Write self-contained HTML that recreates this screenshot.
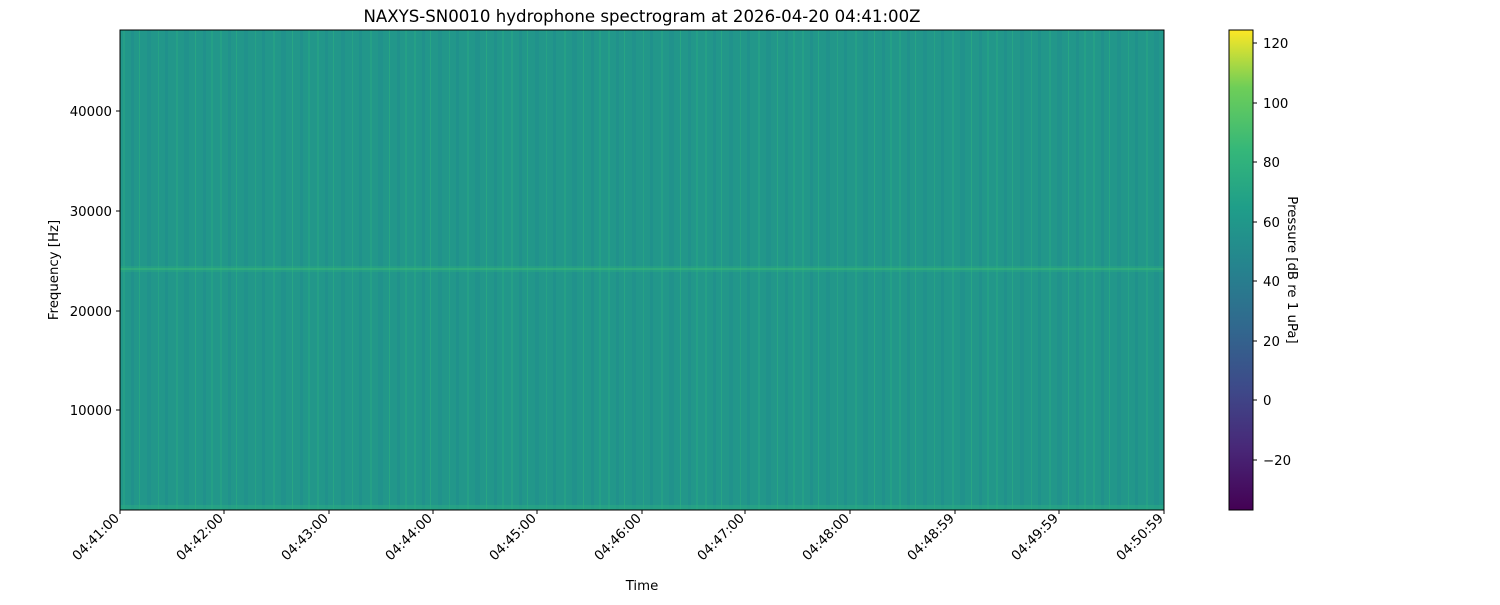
<!DOCTYPE html>
<html><head><style>
body{margin:0;background:#fff;}
</style></head><body>
<svg width="1500" height="600" xmlns="http://www.w3.org/2000/svg" font-family="DejaVu Sans, sans-serif" font-size="13.3">
<defs>
<linearGradient id="vir" x1="0" y1="1" x2="0" y2="0">
<stop offset="0" stop-color="#440154"/><stop offset="0.13" stop-color="#482878"/><stop offset="0.25" stop-color="#3e4989"/><stop offset="0.38" stop-color="#31688e"/><stop offset="0.5" stop-color="#26828e"/><stop offset="0.63" stop-color="#1f9e89"/><stop offset="0.75" stop-color="#35b779"/><stop offset="0.88" stop-color="#6ece58"/><stop offset="1" stop-color="#fde725"/>
</linearGradient>
<pattern id="str" x="120" y="0" width="97" height="10" patternUnits="userSpaceOnUse">
<rect x="0" y="0" width="97" height="10" fill="#22978a"/>
<rect x="3" y="0" width="2" height="10" fill="#25a086"/>
<rect x="11" y="0" width="3" height="10" fill="#21918c"/>
<rect x="19" y="0" width="1" height="10" fill="#27a584"/>
<rect x="27" y="0" width="4" height="10" fill="#21928c"/>
<rect x="38" y="0" width="1" height="10" fill="#26a285"/>
<rect x="45" y="0" width="3" height="10" fill="#20918c"/>
<rect x="56" y="0" width="2" height="10" fill="#25a086"/>
<rect x="64" y="0" width="5" height="10" fill="#21928c"/>
<rect x="75" y="0" width="1" height="10" fill="#28a683"/>
<rect x="83" y="0" width="3" height="10" fill="#21918c"/>
<rect x="91" y="0" width="2" height="10" fill="#24a086"/>
</pattern>
</defs>
<rect x="120" y="30" width="1044" height="480" fill="url(#str)"/>
<rect x="120" y="266" width="1044" height="2" fill="#2fb47c" opacity="0.3"/>
<rect x="120" y="268" width="1044" height="2" fill="#3cbc75" opacity="0.55"/>
<rect x="120" y="270" width="1044" height="2" fill="#2fb47c" opacity="0.3"/>
<rect x="120" y="505" width="1044" height="5" fill="#2aab80" opacity="0.5"/>
<rect x="120" y="30" width="1044" height="480" fill="none" stroke="#000" stroke-width="1"/>
<text x="642" y="22" text-anchor="middle" font-size="16.6">NAXYS-SN0010 hydrophone spectrogram at 2026-04-20 04:41:00Z</text>
<g text-anchor="end">
<line x1="116" y1="111" x2="120" y2="111" stroke="#000"/><text x="112" y="116">40000</text>
<line x1="116" y1="211" x2="120" y2="211" stroke="#000"/><text x="112" y="216">30000</text>
<line x1="116" y1="311" x2="120" y2="311" stroke="#000"/><text x="112" y="316">20000</text>
<line x1="116" y1="410" x2="120" y2="410" stroke="#000"/><text x="112" y="415">10000</text>
</g>
<text transform="translate(58,270) rotate(-90)" text-anchor="middle">Frequency [Hz]</text>
<g text-anchor="end">
<g transform="translate(120,510)"><line y2="4" stroke="#000"/><text transform="translate(0,9) rotate(-45)">04:41:00</text></g>
<g transform="translate(224,510)"><line y2="4" stroke="#000"/><text transform="translate(0,9) rotate(-45)">04:42:00</text></g>
<g transform="translate(329,510)"><line y2="4" stroke="#000"/><text transform="translate(0,9) rotate(-45)">04:43:00</text></g>
<g transform="translate(433,510)"><line y2="4" stroke="#000"/><text transform="translate(0,9) rotate(-45)">04:44:00</text></g>
<g transform="translate(537,510)"><line y2="4" stroke="#000"/><text transform="translate(0,9) rotate(-45)">04:45:00</text></g>
<g transform="translate(642,510)"><line y2="4" stroke="#000"/><text transform="translate(0,9) rotate(-45)">04:46:00</text></g>
<g transform="translate(745,510)"><line y2="4" stroke="#000"/><text transform="translate(0,9) rotate(-45)">04:47:00</text></g>
<g transform="translate(850,510)"><line y2="4" stroke="#000"/><text transform="translate(0,9) rotate(-45)">04:48:00</text></g>
<g transform="translate(955,510)"><line y2="4" stroke="#000"/><text transform="translate(0,9) rotate(-45)">04:48:59</text></g>
<g transform="translate(1059,510)"><line y2="4" stroke="#000"/><text transform="translate(0,9) rotate(-45)">04:49:59</text></g>
<g transform="translate(1164,510)"><line y2="4" stroke="#000"/><text transform="translate(0,9) rotate(-45)">04:50:59</text></g>
</g>
<text x="642" y="590" text-anchor="middle">Time</text>
<rect x="1229" y="30" width="24" height="480" fill="url(#vir)" stroke="#000" stroke-width="1"/>
<g>
<line x1="1253" y1="43" x2="1257" y2="43" stroke="#000"/><text x="1263" y="48">120</text>
<line x1="1253" y1="103" x2="1257" y2="103" stroke="#000"/><text x="1263" y="108">100</text>
<line x1="1253" y1="162" x2="1257" y2="162" stroke="#000"/><text x="1263" y="167">80</text>
<line x1="1253" y1="222" x2="1257" y2="222" stroke="#000"/><text x="1263" y="227">60</text>
<line x1="1253" y1="281" x2="1257" y2="281" stroke="#000"/><text x="1263" y="286">40</text>
<line x1="1253" y1="341" x2="1257" y2="341" stroke="#000"/><text x="1263" y="346">20</text>
<line x1="1253" y1="400" x2="1257" y2="400" stroke="#000"/><text x="1263" y="405">0</text>
<line x1="1253" y1="460" x2="1257" y2="460" stroke="#000"/><text x="1263" y="465">−20</text>
</g>
<text transform="translate(1288,270) rotate(90)" text-anchor="middle">Pressure [dB re 1 uPa]</text>
</svg>
</body></html>
